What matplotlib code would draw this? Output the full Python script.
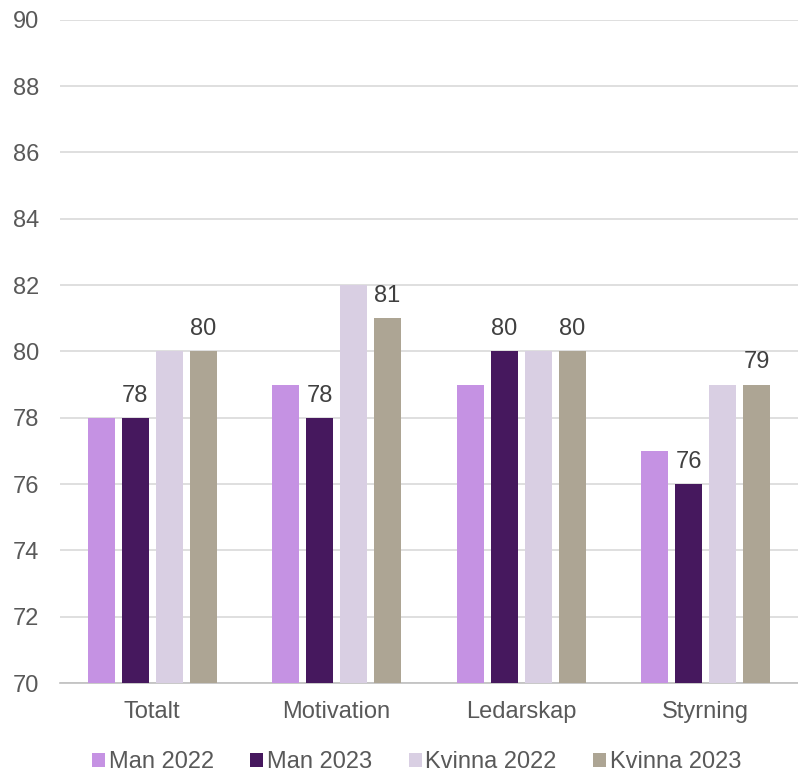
import numpy as np
import matplotlib.pyplot as plt

plt.rcParams['font.family'] = ['Liberation Sans', 'DejaVu Sans']

categories = ['Totalt', 'Motivation', 'Ledarskap', 'Styrning']
series_names = ['Man 2022', 'Man 2023', 'Kvinna 2022', 'Kvinna 2023']
man_2022 = [78, 79, 79, 77]
man_2023 = [78, 78, 80, 76]
kvinna_2022 = [80, 82, 80, 79]
kvinna_2023 = [80, 81, 80, 79]
yticks = list(range(70, 91, 2))

colors = ['#C592E3', '#46185E', '#D9CFE3', '#ADA594']
labelled = [False, True, False, True]

fig = plt.figure(figsize=(7.98, 7.73), dpi=100)
ax = fig.add_axes([0.075, 0.1164, 0.925, 0.858])

x = np.arange(len(categories))
step = 0.184
width = 0.146
for i, (name, vals) in enumerate(zip(series_names,
                                      [man_2022, man_2023, kvinna_2022, kvinna_2023])):
    offs = (i - 1.5) * step
    bars = ax.bar(x + offs, np.array(vals) - 70, width, bottom=70,
                  color=colors[i], label=name, zorder=3)
    if labelled[i]:
        ax.bar_label(bars, labels=[str(v) for v in vals], padding=8,
                     fontsize=17, color='#404040')

ax.set_ylim(70, 90)
ax.set_xlim(-0.5, 3.5)
ax.set_yticks(yticks)
ax.set_xticks(x)
ax.set_xticklabels(categories)
ax.tick_params(axis='both', length=0, labelsize=17, labelcolor='#595959')
ax.tick_params(axis='y', pad=15)
ax.tick_params(axis='x', pad=13)
ax.yaxis.grid(True, color='#D9D9D9', linewidth=1.2, zorder=0)
for s in ['top', 'right', 'left']:
    ax.spines[s].set_visible(False)
ax.spines['bottom'].set_color('#BFBFBF')
ax.spines['bottom'].set_linewidth(1.2)

leg = fig.legend(loc='lower center', bbox_to_anchor=(0.522, -0.028), ncol=4,
                 frameon=False, fontsize=17, handlelength=0.55, handleheight=0.55,
                 handletextpad=0.15, columnspacing=1.55, labelcolor='#595959')

fig.savefig('out.png', dpi=100)
